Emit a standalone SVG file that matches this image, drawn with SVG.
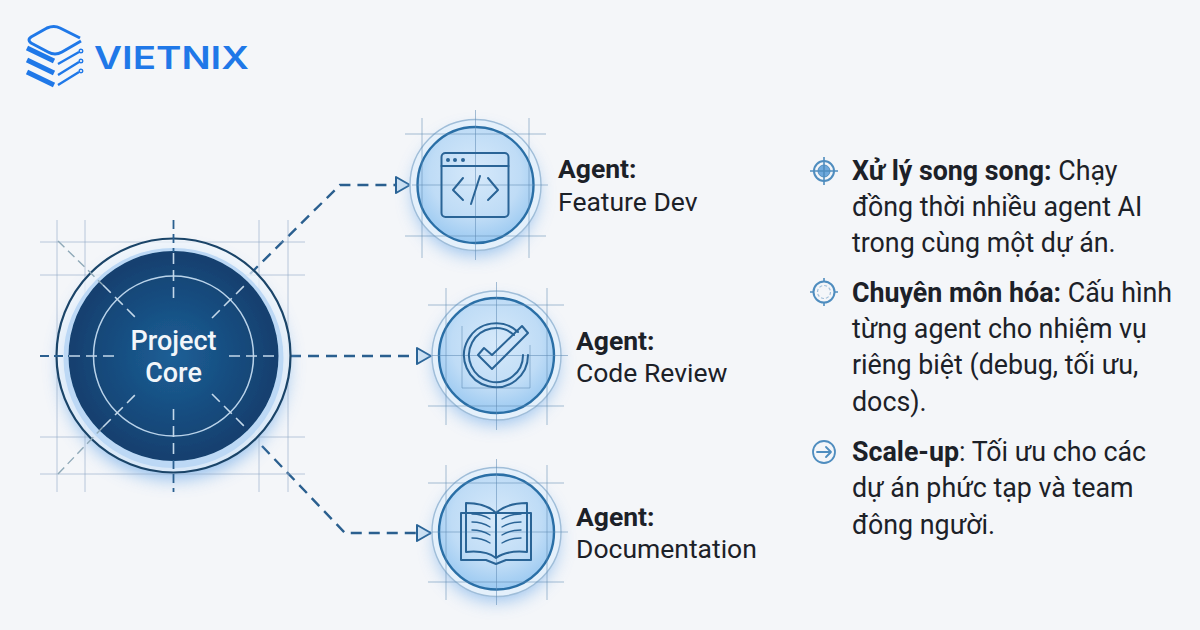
<svg xmlns="http://www.w3.org/2000/svg" width="1200" height="630" viewBox="0 0 1200 630">
<defs>
<style>
text{font-family:Roboto,"Liberation Sans",sans-serif;fill:#1c2128}
.lab{font-size:26.5px}
.b{font-weight:700}
.side{font-size:26.8px}
.core{font-size:27px;font-weight:500;fill:#f2f6fa}
.grid{stroke:#8fa9c4;stroke-width:1;fill:none;opacity:.6}
.gridc{stroke:#5f8bb5;stroke-width:1;fill:none;opacity:.55}
.conn{stroke:#2a5f8f;stroke-width:2.4;fill:none;stroke-dasharray:11 7}
.dash{stroke:#c3d8ea;stroke-width:1.6;fill:none;stroke-dasharray:11 6}
.dashd{stroke:#8fa9b8;stroke-width:1.4;fill:none;stroke-dasharray:9 5}
.ic{stroke:#2a6496;stroke-width:2;fill:none;stroke-linejoin:round;stroke-linecap:round}
.ict{stroke:#2a6496;stroke-width:1.4;fill:none;stroke-linecap:round}
.logo{stroke:#1f78e8;fill:none;stroke-linecap:butt;stroke-linejoin:round}
</style>
<radialGradient id="core" cx="50%" cy="50%" r="50%"><stop offset="0" stop-color="#1d5f96"/><stop offset="1" stop-color="#123f6e"/></radialGradient>
<radialGradient id="agent" cx="50%" cy="40%" r="65%"><stop offset="0" stop-color="#d6e9fa"/><stop offset=".6" stop-color="#bfdcf6"/><stop offset="1" stop-color="#93c5f0"/></radialGradient>
<filter id="glow" x="-30%" y="-30%" width="160%" height="160%"><feGaussianBlur stdDeviation="9"/></filter>
<filter id="soft" x="-5%" y="-5%" width="110%" height="110%"><feGaussianBlur stdDeviation=".45"/></filter>
<marker id="arr" viewBox="0 0 18 20" refX="16" refY="10" markerWidth="18" markerHeight="20" markerUnits="userSpaceOnUse" orient="auto"><path d="M2 2L16 10L2 18Z" fill="#cfe2f3" stroke="#2a6496" stroke-width="2" stroke-linejoin="round"/></marker>
</defs>
<rect width="1200" height="630" fill="#f4f6f9"/>

<g id="logo">
<path class="logo" stroke-width="3" stroke-linecap="round" d="M81 41L62 52Q55 56 48 52L31 43Q27 40 31 37L47 28Q54 25 60 28L80 38"/>
<path class="logo" stroke-width="5" d="M27 48L54 61M27 60L54 73M27 72L54 85"/>
<path class="logo" stroke-width="2.400" d="M58 64L79 52M58 75L79 62M58 85L79 72"/>
<g fill="#f4f6f9" stroke="#1f78e8" stroke-width="1.400"><circle cx="81" cy="51" r="1.800"/><circle cx="81" cy="61" r="1.800"/><circle cx="81" cy="71" r="1.800"/></g>
<text x="94" y="69" textLength="155" lengthAdjust="spacingAndGlyphs" style="font-family:Inter,'Liberation Sans',sans-serif;font-size:31px;font-weight:600;fill:#1f78e8">VIETNIX</text>
</g>

<g id="connectors" filter="url(#soft)">
<path class="conn" d="M250 274L340 185H410" marker-end="url(#arr)"/>
<path class="conn" d="M290 356H431" marker-end="url(#arr)"/>
<path class="conn" d="M262 446L345 533H431" marker-end="url(#arr)"/>
</g>

<g id="core-node">
<circle cx="174" cy="366" r="113" fill="#6faae8" opacity=".75" filter="url(#glow)"/>
<g class="grid"><path d="M57 220V492M85 220V492M259 220V492M288 220V492M40 242H305M40 275H305M40 437H305M40 474H305"/></g>
<circle cx="173.500" cy="355.500" r="117" fill="#f1f6fc" fill-opacity=".7" stroke="none"/>
<circle cx="173.500" cy="358" r="110" fill="#bcd8f5" filter="url(#soft)"/>
<circle cx="173.500" cy="356" r="105" fill="url(#core)" filter="url(#soft)"/>
<circle cx="173.500" cy="355.500" r="117" fill="none" stroke="#1a4468" stroke-width="2.200"/>
<circle cx="173.500" cy="356" r="80" fill="none" stroke="#b9d3ea" stroke-width="1.500"/>
<path class="dash" d="M173.500 253V303M173.500 409V459M69 356H118M229 356H278M103 285L136 318M212 318L245 285M103 427L136 394M212 394L245 427"/>
<path class="dashd" d="M58 241L103 285M58 474L103 427"/>
<path d="M173.500 220V252M173.500 460V492M40 356H69" fill="none" stroke="#2a5f8f" stroke-width="1.800" stroke-dasharray="9 5"/>
<text class="core" x="173.500" y="350" text-anchor="middle">Project</text>
<text class="core" x="173.500" y="382" text-anchor="middle">Core</text>
</g>

<g id="agent-feature">
<circle cx="475.500" cy="193" r="62" fill="#6faae8" opacity=".7" filter="url(#glow)"/>
<circle cx="475.500" cy="185" r="65.500" fill="#e4f0fb" stroke="#9fbdd8" stroke-width="1.400"/>
<circle cx="475.500" cy="185" r="58" fill="url(#agent)" stroke="#2a6fa6" stroke-width="2.400"/>
<path class="gridc" d="M422 118V258M529 118V258M475.500 110V260M405 134H546M405 236H546M412 185H548"/>
<rect x="441.500" y="153" width="67" height="64" rx="4" class="ic" fill="#cfe4f7"/>
<path class="ic" d="M441.500 166H508.500"/>
<g fill="#2a6496"><circle cx="448" cy="160" r="2"/><circle cx="455" cy="160" r="2"/><circle cx="463" cy="160" r="2"/></g>
<path class="ic" stroke-width="2.600" d="M463 178L453 190L463 200M488 178L498 190L488 200M480 176L471 204"/>
</g>
<g id="agent-review">
<circle cx="496.500" cy="363" r="61" fill="#6faae8" opacity=".7" filter="url(#glow)"/>
<circle cx="496.500" cy="355.500" r="64.500" fill="#e4f0fb" stroke="#9fbdd8" stroke-width="1.400"/>
<circle cx="496.500" cy="355.500" r="57.500" fill="url(#agent)" stroke="#2a6fa6" stroke-width="2.400"/>
<path class="gridc" d="M446 288V425M547 288V425M496.500 282V430M428 305H564M428 406H564M432 355.500H568"/>
<path class="gridc" d="M462 326V388H530V345"/>
<path class="ic" stroke-width="2" d="M518 332A32 32 0 1 0 528 355M514 335A27 27 0 1 0 523 355"/>
<path class="ic" fill="#8fc3ee" d="M478 355L484 348L492 355L522 326L528 333L492 369Z"/>
</g>
<g id="agent-docs">
<circle cx="496.500" cy="540" r="61" fill="#6faae8" opacity=".7" filter="url(#glow)"/>
<circle cx="496.500" cy="532" r="64.500" fill="#e4f0fb" stroke="#9fbdd8" stroke-width="1.400"/>
<circle cx="496.500" cy="532" r="57.500" fill="url(#agent)" stroke="#2a6fa6" stroke-width="2.400"/>
<path class="gridc" d="M446 465V600M547 465V600M496.500 459V605M428 483H564M428 582H564M432 532H568"/>
<path class="ic" fill="#7fb4e3" stroke-width="2.400" d="M461 513V560H486L496 564L506 560H531V513Z"/>
<path class="ic" fill="#e3f0fb" d="M466 503Q486 503 496 513V558Q486 550 466 552ZM527 503Q507 503 496 513V558Q507 550 527 552Z"/>
<path class="ict" d="M472 514Q482 514 490 519M472 522Q482 522 490 527M472 530Q482 530 490 535M472 538Q482 538 490 543M521 514Q510 514 502 519M521 522Q510 522 502 527M521 530Q510 530 502 535M521 538Q510 538 502 543"/>
</g>

<g id="agent-labels">
<text class="lab b" x="558" y="178">Agent:</text>
<text class="lab" x="558" y="211">Feature Dev</text>
<text class="lab b" x="576" y="350">Agent:</text>
<text class="lab" x="576" y="382">Code Review</text>
<text class="lab b" x="576" y="526">Agent:</text>
<text class="lab" x="576" y="558">Documentation</text>
</g>

<g id="bullets">
<g id="bullet-1">
<circle cx="824" cy="171" r="10" fill="none" stroke="#4f8dbf" stroke-width="2"/><circle cx="824" cy="171" r="6" fill="#6ea8dc" stroke="#4f8dbf"/>
<path d="M810 171H838M824 157V185" stroke="#4f8dbf" stroke-width="1.600"/>
<text class="side" x="852" y="180"><tspan class="b">Xử lý song song:</tspan> Chạy</text>
<text class="side" x="852" y="216">đồng thời nhiều agent AI</text>
<text class="side" x="852" y="252">trong cùng một dự án.</text>
</g>
<g id="bullet-2">
<path d="M810 292H838M824 278V306" stroke="#4f8dbf" stroke-width="1.600"/>
<circle cx="824" cy="292" r="10.500" fill="#f4f6f9" stroke="#4f8dbf" stroke-width="2"/>
<circle cx="824" cy="292" r="6.500" fill="none" stroke="#9fbdd8" stroke-width="1.200" stroke-dasharray="3 2"/>
<text class="side" x="852" y="302"><tspan class="b">Chuyên môn hóa:</tspan> Cấu hình</text>
<text class="side" x="852" y="338">từng agent cho nhiệm vụ</text>
<text class="side" x="852" y="374">riêng biệt (debug, tối ưu,</text>
<text class="side" x="852" y="411">docs).</text>
</g>
<g id="bullet-3">
<circle cx="824" cy="452" r="11" fill="none" stroke="#4f8dbf" stroke-width="1.800"/>
<path d="M817 452H831M826 447L831 452L826 457" fill="none" stroke="#4f8dbf" stroke-width="1.800" stroke-linecap="round" stroke-linejoin="round"/>
<text class="side" x="852" y="461"><tspan class="b">Scale-up</tspan>: Tối ưu cho các</text>
<text class="side" x="852" y="497">dự án phức tạp và team</text>
<text class="side" x="852" y="534">đông người.</text>
</g>
</g>
</svg>
